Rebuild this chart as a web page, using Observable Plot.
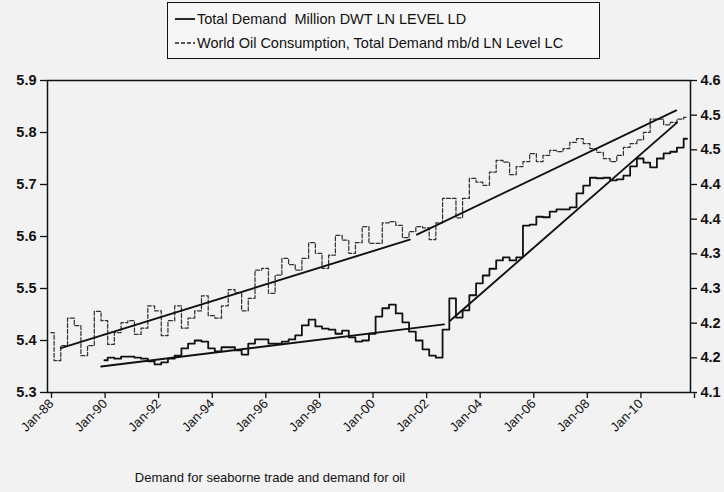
<!DOCTYPE html>
<html>
<head>
<meta charset="utf-8">
<script src="https://cdn.jsdelivr.net/npm/d3@7"></script>
<script src="https://cdn.jsdelivr.net/npm/@observablehq/plot@0.6"></script>
<style>
  html, body { margin: 0; padding: 0; }
  body { width: 724px; height: 492px; background: #f2f2f2; position: relative; overflow: hidden;
         font-family: "Liberation Sans Narrow", "Arial Narrow", "Liberation Sans", Arial, sans-serif; color: #111; }
  #legend { position: absolute; left: 167px; top: 2px; width: 433px; height: 57px; border: 1.6px solid #111;
            background: #f6f6f6; box-sizing: border-box; }
  .row { position: absolute; left: 6px; height: 20px; display: flex; align-items: center; font-size: 14.5px; white-space: pre; }
  .row svg { margin-right: 1px; }
  #chart { position: absolute; left: 0; top: 66px; }
  #caption { position: absolute; left: 0; width: 540px; text-align: center; top: 470px;
             font-family: "Liberation Sans", Arial, sans-serif; font-size: 13px; }
</style>
</head>
<body>
<div id="legend">
  <div class="row" style="top:6px"><svg width="22" height="10"><line x1="1" y1="5" x2="21" y2="5" stroke="#111" stroke-width="1.8"/></svg><span id="lab1"></span></div>
  <div class="row" style="top:30px"><svg width="22" height="10"><line x1="1" y1="5" x2="21" y2="5" stroke="#222" stroke-width="1.4" stroke-dasharray="4,2"/></svg><span id="lab2"></span></div>
</div>
<div id="chart"></div>
<div id="caption"></div>
<script>
// ---- labels ----
const seriesNames = ["Total Demand  Million DWT LN LEVEL LD", "World Oil Consumption, Total Demand mb/d LN Level LC"];
const captionText = "Demand for seaborne trade and demand for oil";

// ---- categories: quarters 1988Q1 .. 2011Q4 ----
const years = d3.range(1988, 2012);
const quarterStarts = years.flatMap(y => [0, 1, 2, 3].map(q => new Date(Date.UTC(y, q * 3 + 1, 15))));

// World oil consumption, LN level (right axis), quarterly from 1988Q1
const oilLC = [
  4.196, 4.151, 4.175, 4.219,
  4.207, 4.159, 4.175, 4.230,
  4.215, 4.177, 4.196, 4.212,
  4.215, 4.193, 4.203, 4.239,
  4.231, 4.191, 4.215, 4.239,
  4.203, 4.219, 4.231, 4.255,
  4.223, 4.219, 4.239, 4.265,
  4.260, 4.231, 4.251, 4.296,
  4.299, 4.259, 4.288, 4.315,
  4.305, 4.296, 4.315, 4.340,
  4.323, 4.299, 4.320, 4.352,
  4.344, 4.323, 4.340, 4.366,
  4.339, 4.339, 4.372, 4.374,
  4.368, 4.348, 4.358, 4.366,
  4.364, 4.345, 4.372, 4.411,
  4.411, 4.380, 4.411, 4.443,
  4.437, 4.432, 4.453, 4.472,
  4.469, 4.449, 4.462, 4.470,
  4.483, 4.470, 4.480, 4.488,
  4.486, 4.491, 4.501, 4.507,
  4.499, 4.491, 4.485, 4.475,
  4.470, 4.480, 4.493, 4.499,
  4.505, 4.517, 4.538, 4.538,
  4.529, 4.533, 4.538, 4.541
];

// Total demand million DWT, LN level (left axis), quarterly from 1990Q1
const demandLD = [
  5.362, 5.367, 5.365, 5.369,
  5.369, 5.367, 5.365, 5.360,
  5.354, 5.358, 5.365, 5.371,
  5.385, 5.394, 5.400, 5.398,
  5.385, 5.379, 5.387, 5.387,
  5.381, 5.373, 5.394, 5.402,
  5.402, 5.394, 5.394, 5.398,
  5.402, 5.410, 5.429, 5.440,
  5.427, 5.423, 5.421, 5.413,
  5.419, 5.406, 5.398, 5.400,
  5.413, 5.446, 5.462, 5.469,
  5.452, 5.435, 5.417, 5.400,
  5.383, 5.371, 5.367, 5.421,
  5.481, 5.444, 5.458, 5.487,
  5.510, 5.525, 5.538, 5.554,
  5.560, 5.554, 5.560, 5.621,
  5.623, 5.638, 5.637, 5.648,
  5.652, 5.652, 5.656, 5.683,
  5.698, 5.713, 5.712, 5.713,
  5.708, 5.710, 5.717, 5.735,
  5.750, 5.742, 5.733, 5.750,
  5.760, 5.763, 5.771, 5.788
];
const demandStartIndex = 8; // 1990Q1

// Fitted trend segments
const oilTrendDates = [["1988-07-01", "2001-07-10"], ["2001-10-15", "2011-06-20"]];
const oilTrendValues = [[4.171, 4.345], [4.353, 4.552]];
const ldTrendDates = [["1990-01-01", "2002-10-20"], ["2003-01-10", "2011-07-01"]];
const ldTrendValues = [[5.350, 5.431], [5.438, 5.819]];

// Axis ticks
const leftTicks = [5.3, 5.4, 5.5, 5.6, 5.7, 5.8, 5.9];
const rightMin = 4.1, rightMax = 4.6, rightIntervals = 9;
const xTickYears = [1988, 1990, 1992, 1994, 1996, 1998, 2000, 2002, 2004, 2006, 2008, 2010, 2012];

// ---- build ----
const leftMin = 5.3, leftMax = 5.9;
const toLeft = r => leftMin + (r - rightMin) * (leftMax - leftMin) / (rightMax - rightMin);
const toRight = l => rightMin + (l - leftMin) * (rightMax - rightMin) / (leftMax - leftMin);
const rightPos = d3.range(rightIntervals + 1).map(i => leftMin + i * (leftMax - leftMin) / rightIntervals);

const oilData = oilLC.map((v, i) => ({date: quarterStarts[i], v}));
const ldData = demandLD.map((v, i) => ({date: quarterStarts[i + demandStartIndex], v}));
const trendRows = [];
oilTrendDates.forEach((seg, k) => seg.forEach((d, j) => trendRows.push({seg: "oil" + k, date: new Date(d), y: toLeft(oilTrendValues[k][j])})));
ldTrendDates.forEach((seg, k) => seg.forEach((d, j) => trendRows.push({seg: "ld" + k, date: new Date(d), y: ldTrendValues[k][j]})));
const xTicks = xTickYears.map(y => new Date(Date.UTC(y, 0, 1)));

document.getElementById("lab1").textContent = seriesNames[0];
document.getElementById("lab2").textContent = seriesNames[1];
document.getElementById("caption").textContent = captionText;

const chart = Plot.plot({
  width: 724,
  height: 386,
  marginTop: 14,
  marginBottom: 60,
  marginLeft: 47,
  marginRight: 34,
  style: {background: "transparent", fontFamily: "'Liberation Sans', Arial, sans-serif", fontSize: "12.5px", color: "#111"},
  x: {type: "utc", domain: [xTicks[0], xTicks[xTicks.length - 1]]},
  y: {domain: [leftMin, leftMax]},
  marks: [
    Plot.frame({stroke: "#111", strokeWidth: 1.5}),
    Plot.axisY({ticks: leftTicks, tickFormat: d3.format(".1f"), tickSize: 7, tickPadding: 4, label: null, fontWeight: "bold", fontSize: 14.5, strokeWidth: 1.3}),
    Plot.axisY({anchor: "right", ticks: rightPos, tickFormat: d => toRight(d).toFixed(1), tickSize: 6, tickPadding: 4, label: null, fontWeight: "bold", fontSize: 14.5, strokeWidth: 1.3}),
    Plot.axisX({ticks: xTicks, tickFormat: d => d.getUTCFullYear() >= 2012 ? "" : "Jan-" + String(d.getUTCFullYear()).slice(2), tickRotate: -45, tickSize: 6, tickPadding: 3, dx: 4, label: null, fontFamily: "'Liberation Sans Narrow', 'Arial Narrow', 'Liberation Sans', sans-serif", fontSize: 13, strokeWidth: 1.3}),
    Plot.line(oilData, {x: "date", y: d => toLeft(d.v), curve: "step", stroke: "#333", strokeWidth: 1.25, strokeDasharray: "4,2"}),
    Plot.line(ldData, {x: "date", y: "v", curve: "step", stroke: "#111", strokeWidth: 1.8}),
    Plot.line(trendRows, {x: "date", y: "y", z: "seg", stroke: "#111", strokeWidth: 1.9})
  ]
});
document.getElementById("chart").appendChild(chart);
</script>
</body>
</html>
